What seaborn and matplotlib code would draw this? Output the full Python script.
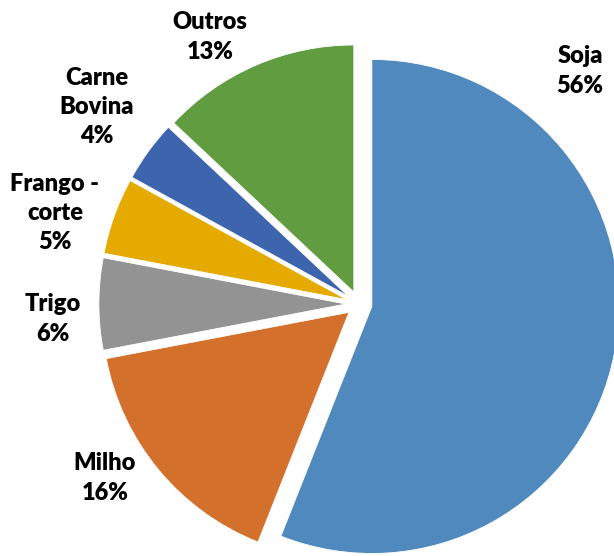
import numpy as np
import matplotlib
matplotlib.use("Agg")
import matplotlib.pyplot as plt
import seaborn as sns

sns.set_theme(style="white")
plt.rcParams['font.family'] = ['Lato', 'DejaVu Sans']

categories = ["Soja", "Milho", "Trigo", "Frango -\ncorte", "Carne\nBovina", "Outros"]
values = [56, 16, 6, 5, 4, 13]
colors = ["#4F89BD", "#D3702C", "#939393", "#E4AA00", "#3D65AE", "#629C40"]
explode = [0.053] * len(values)

# label placement (polar: angle in degrees, distance in radii) - style only
label_angle = [46.5, -145.6, -177.2, 163.3, 143.1, 119.2]
label_dist = [1.300, 1.247, 1.240, 1.285, 1.327, 1.238]

fig = plt.figure(figsize=(6.14, 5.56), dpi=100)
ax = fig.add_axes([0, 0, 1, 1])
ax.pie(values, colors=colors, startangle=90, counterclock=False,
       explode=explode, radius=1.0,
       wedgeprops=dict(edgecolor="white", linewidth=0.6))

total = sum(values)
for cat, v, a, d in zip(categories, values, label_angle, label_dist):
    t = np.deg2rad(a)
    ax.text(d * np.cos(t), d * np.sin(t), f"{cat}\n{round(100 * v / total)}%",
            ha="center", va="center", fontsize=17, fontweight="heavy",
            color="black", linespacing=1.4)

ax.set_xlim(-1.4534, 1.0324)
ax.set_ylim(-1.0202, 1.2308)
ax.set_aspect("auto")
ax.axis("off")
fig.savefig("out.png", dpi=100, facecolor="white")
